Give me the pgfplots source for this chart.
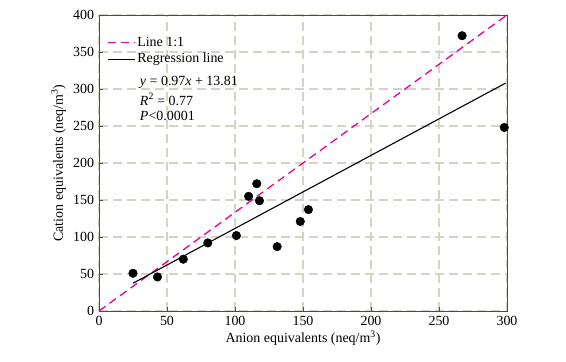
\documentclass[border=0pt]{standalone}
\usepackage{fontspec}
\setmainfont{Liberation Serif}
\usepackage{pgfplots}
\pgfplotsset{compat=1.18}
\definecolor{gridc}{RGB}{214,211,198}
\begin{document}
\fontsize{14}{16}\selectfont
\begin{tikzpicture}
\path[use as bounding box] (-99bp,-51bp) rectangle (467bp,311bp);
\begin{axis}[
  at={(0,0)}, anchor=south west,
  scale only axis, width=408bp, height=296bp,
  xmin=0, xmax=300, ymin=0, ymax=400,
  xtick={0,50,...,300}, ytick={0,50,...,400},
  tick align=inside, major tick length=4bp,
  xtick pos=bottom, ytick pos=left,
  tick style={black!70, line width=0.6pt},
  axis line style={black!70, line width=0.8pt},
  grid=major,
  major grid style={gridc, line width=1.1pt, dash pattern=on 9bp off 5bp},
  /pgf/number format/assume math mode=true,
  tick label style={font=\fontsize{14}{16}\selectfont},
  label style={font=\fontsize{14}{16}\selectfont},
  xlabel={Anion equivalents (neq/m\textsuperscript{3})},
  ylabel={Cation equivalents (neq/m\textsuperscript{3})},
  xlabel style={yshift=4bp},
  ylabel style={yshift=-2bp},
  legend style={at={(rel axis cs:0.012,0.94)}, anchor=north west, draw=none, fill=none,
    font=\fontsize{14}{16}\selectfont, row sep=1bp,
    legend cell align=left},
  legend image code/.code={\draw[#1] (0cm,0cm) -- (0.95cm,0cm);},
]
\addplot[magenta, line width=1.3pt, dash pattern=on 8bp off 5bp] coordinates {(0,0) (300,400)};
\addlegendentry{Line 1:1}
\addplot[black, line width=1.1pt] coordinates {(25,37.5) (299,308)};
\addlegendentry{Regression line}
\addplot[only marks, mark=*, mark size=4.3bp, black, forget plot] coordinates {
(25,51) (43,46) (62,70) (80,92) (101,102) (110,155) (116,172) (118,149)
(131,87) (148,121) (154,137) (267,372) (298,248)
};
\node[anchor=west, inner sep=0pt] at (axis cs:30,309) {\textit{y} = 0.97\textit{x} + 13.81};
\node[anchor=west, inner sep=0pt] at (axis cs:30,286) {\textit{R}\textsuperscript{2} = 0.77};
\node[anchor=west, inner sep=0pt] at (axis cs:30,264) {\textit{P}<0.0001};
\end{axis}
\end{tikzpicture}
\end{document}
